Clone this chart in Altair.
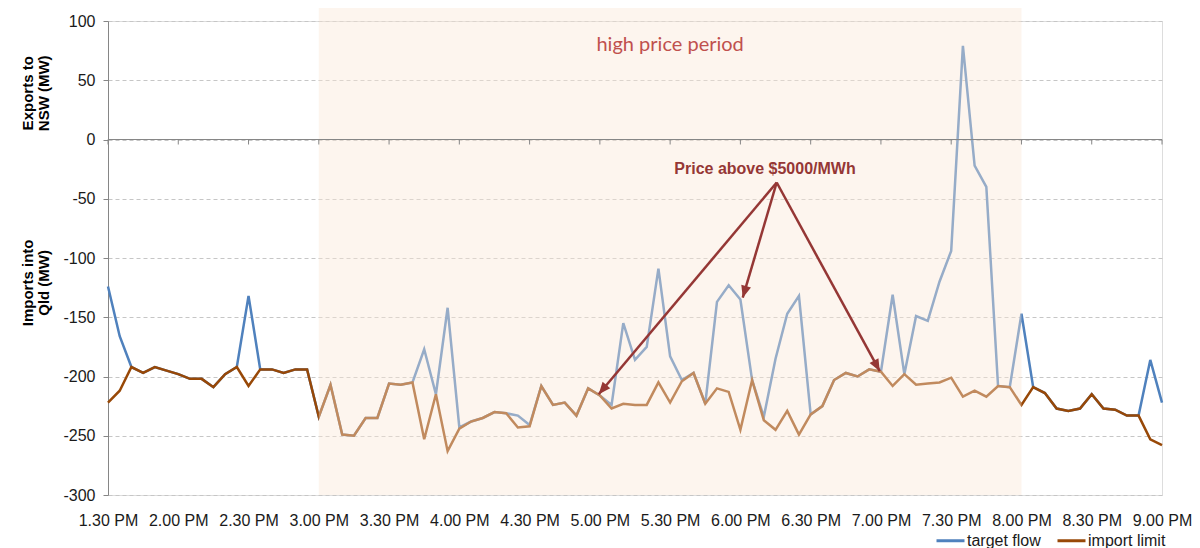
import math
import altair as alt
import pandas as pd

# ---------------- data ----------------
tick_labels = ['1.30 PM', '2.00 PM', '2.30 PM', '3.00 PM', '3.30 PM', '4.00 PM',
               '4.30 PM', '5.00 PM', '5.30 PM', '6.00 PM', '6.30 PM', '7.00 PM',
               '7.30 PM', '8.00 PM', '8.30 PM', '9.00 PM']

# 5-minute intervals from 1.30 PM (index 0) to 9.00 PM (index 90)
import_limit = [
    -222, -212, -192, -197, -192, -195, -198, -202, -202, -209,
    -198, -192, -208, -194, -194, -197, -194, -194, -234, -207,
    -249, -250, -235, -235, -206, -207, -205, -253, -215, -263,
    -244, -238, -235, -230, -231, -243, -242, -208, -224, -222,
    -233, -210, -216, -227, -223, -224, -224, -205, -222, -204,
    -197, -223, -210, -213, -245, -203, -237, -245, -229, -249,
    -232, -225, -203, -197, -200, -194, -196, -208, -198, -207,
    -206, -205, -201, -217, -212, -217, -208, -209, -224, -209,
    -214, -227, -229, -227, -215, -227, -228, -233, -233, -253,
    -258]

target_flow = [
    -124, -166, -192, -197, -192, -195, -198, -202, -202, -209,
    -198, -192, -132, -194, -194, -197, -194, -194, -234, -207,
    -249, -250, -235, -235, -206, -207, -205, -177, -215, -142,
    -243, -238, -235, -230, -231, -233, -241, -208, -224, -222,
    -233, -210, -216, -224, -155, -186, -175, -109, -183, -203,
    -197, -223, -137, -123, -135, -203, -234, -185, -147, -132,
    -232, -225, -203, -197, -200, -194, -196, -131, -198, -149,
    -153, -120, -94, 79, -22, -40, -208, -209, -147, -209,
    -214, -227, -229, -227, -215, -227, -228, -233, -233, -186,
    -222]

series_names = ['target flow', 'import limit']
series_colors = ['#4f81bd', '#984807']

high_price_start = [18]   # 3.00 PM
high_price_end = [78]     # 8.00 PM
high_price_label = ['high price period']

arrow_label = ['Price above $5000/MWh']
arrow_origin = [57.1, -36.3]
arrow_tips_x = [41.9, 54.2, 65.9]
arrow_tips_y = [-215.0, -133.5, -195.5]

y_titles = ['Exports to\nNSW (MW)', 'Imports into\nQld (MW)']
y_title_pos = [39, -121]

# ---------------- layout ----------------
W, H = 1054, 474
XMAX = 90
YMIN, YMAX = -300, 100
px_i = W / XMAX
px_mw = H / (YMAX - YMIN)
zero_px = (YMAX - 0) * px_mw

n = len(target_flow)
df_blue = pd.DataFrame({'i': list(range(n)), 'value': target_flow, 'series': series_names[0]})
df_orange = pd.DataFrame({'i': list(range(n)), 'value': import_limit, 'series': series_names[1]})

tick_idx = list(range(0, XMAX + 1, 6))
label_js = '[' + ','.join("'%s'" % s for s in tick_labels) + ']'

xscale = alt.Scale(domain=[0, XMAX], nice=False, zero=False)
yscale = alt.Scale(domain=[YMIN, YMAX], nice=False, zero=False)
cscale = alt.Scale(domain=series_names, range=series_colors)

x_axis = alt.Axis(values=tick_idx, labelExpr=label_js + '[round(datum.value/6)]',
                  title=None, grid=False, domain=False, ticks=False, labelPadding=17,
                  labelFontSize=16, labelFont='Liberation Sans', labelColor='#1a1a1a',
                  labelFlush=False)
y_axis = alt.Axis(values=list(range(YMIN, YMAX + 1, 50)), title=None, grid=True,
                  labelExpr='toString(datum.value)',
                  gridDash=[4, 3], gridColor='#c6c6c6', domainColor='#868686',
                  tickColor='#868686', tickSize=5, labelPadding=8, labelFontSize=16,
                  labelFont='Liberation Sans', labelColor='#1a1a1a')

legend = alt.Legend(title=None, orient='none', legendX=827, legendY=504, direction='horizontal',
                    symbolType='stroke', symbolSize=784, symbolStrokeWidth=3,
                    labelFontSize=16, labelFont='Liberation Sans', labelColor='#1a1a1a',
                    labelOffset=1, columnPadding=10)

blue = alt.Chart(df_blue).mark_line(strokeWidth=2.5).encode(
    x=alt.X('i:Q', scale=xscale, axis=x_axis),
    y=alt.Y('value:Q', scale=yscale, axis=y_axis),
    color=alt.Color('series:N', scale=cscale, legend=legend, sort=series_names),
)
orange = alt.Chart(df_orange).mark_line(strokeWidth=2.5).encode(
    x=alt.X('i:Q', scale=xscale),
    y=alt.Y('value:Q', scale=yscale),
    color=alt.Color('series:N', scale=cscale, legend=legend, sort=series_names),
)

df_shade = pd.DataFrame({'x': high_price_start, 'x2': high_price_end,
                         'y': [YMIN], 'y2': [YMAX + 12]})
shade = alt.Chart(df_shade).mark_rect(color='#fae6d6', opacity=0.42).encode(
    x=alt.X('x:Q', scale=xscale), x2='x2:Q',
    y=alt.Y('y:Q', scale=yscale), y2='y2:Q')

# zero line (horizontal axis crossing at 0) with its tick marks
df_zero = pd.DataFrame({'x': [0], 'x2': [XMAX], 'y': [0]})
zero_line = alt.Chart(df_zero).mark_rule(color='#868686', strokeWidth=1).encode(
    x=alt.X('x:Q', scale=xscale), x2='x2:Q', y=alt.Y('y:Q', scale=yscale))
df_ticks = pd.DataFrame({'x': tick_idx, 'y': [0] * len(tick_idx)})
zero_ticks = alt.Chart(df_ticks).mark_rule(color='#868686', strokeWidth=1).encode(
    x=alt.X('x:Q', scale=xscale), y=alt.Y('y:Q', scale=yscale), y2=alt.value(zero_px + 5))

df_hp = pd.DataFrame({'x': [(high_price_start[0] + high_price_end[0]) / 2], 'y': [80],
                      't': high_price_label})
hp_text = alt.Chart(df_hp).mark_text(font='Lato', fontSize=20, color='#c0504d',
                                     align='center', baseline='middle').encode(
    x=alt.X('x:Q', scale=xscale), y=alt.Y('y:Q', scale=yscale), text='t:N')

df_at = pd.DataFrame({'x': [56.1], 'y': [-24.5], 't': arrow_label})
arrow_text = alt.Chart(df_at).mark_text(font='Liberation Sans', fontSize=16, fontWeight='bold',
                                        color='#953735', align='center', baseline='middle').encode(
    x=alt.X('x:Q', scale=xscale), y=alt.Y('y:Q', scale=yscale), text='t:N')

angles = []
for tx, ty in zip(arrow_tips_x, arrow_tips_y):
    dx = (tx - arrow_origin[0]) * px_i
    dy = -(ty - arrow_origin[1]) * px_mw
    angles.append(math.degrees(math.atan2(dx, -dy)) % 360)

df_arr = pd.DataFrame({'x0': [arrow_origin[0]] * 3, 'y0': [arrow_origin[1]] * 3,
                       'x1': arrow_tips_x, 'y1': arrow_tips_y, 'angle': angles})
arrow_lines = alt.Chart(df_arr).mark_rule(color='#953735', strokeWidth=2.5).encode(
    x=alt.X('x0:Q', scale=xscale), y=alt.Y('y0:Q', scale=yscale), x2='x1:Q', y2='y1:Q')
arrow_heads = alt.Chart(df_arr).mark_point(shape='M0,0 L-0.42,1 L0.42,1 Z', filled=True,
                                           size=576, color='#953735', opacity=1,
                                           strokeWidth=0).encode(
    x=alt.X('x1:Q', scale=xscale), y=alt.Y('y1:Q', scale=yscale),
    angle=alt.Angle('angle:Q', scale=None))

df_yt = pd.DataFrame({'t': y_titles, 'y': y_title_pos})
ytitle = alt.Chart(df_yt).mark_text(font='Liberation Sans', fontSize=15, fontWeight='bold',
                                    color='#000000', angle=270, align='center',
                                    baseline='middle', lineBreak='\n', lineHeight=16).encode(
    x=alt.value(-80), y=alt.Y('y:Q', scale=yscale), text='t:N')

chart = alt.layer(blue, orange, shade, zero_line, zero_ticks, hp_text, arrow_lines,
                  arrow_heads, arrow_text, ytitle).properties(
    width=W, height=H,
    autosize=alt.AutoSizeParams(type='none'),
    padding={'left': 100, 'top': 13, 'right': 30, 'bottom': 53},
).configure_view(stroke='transparent', strokeWidth=0).configure(background='white')

chart.save('out.html', embed_options={'renderer': 'svg', 'actions': False})
